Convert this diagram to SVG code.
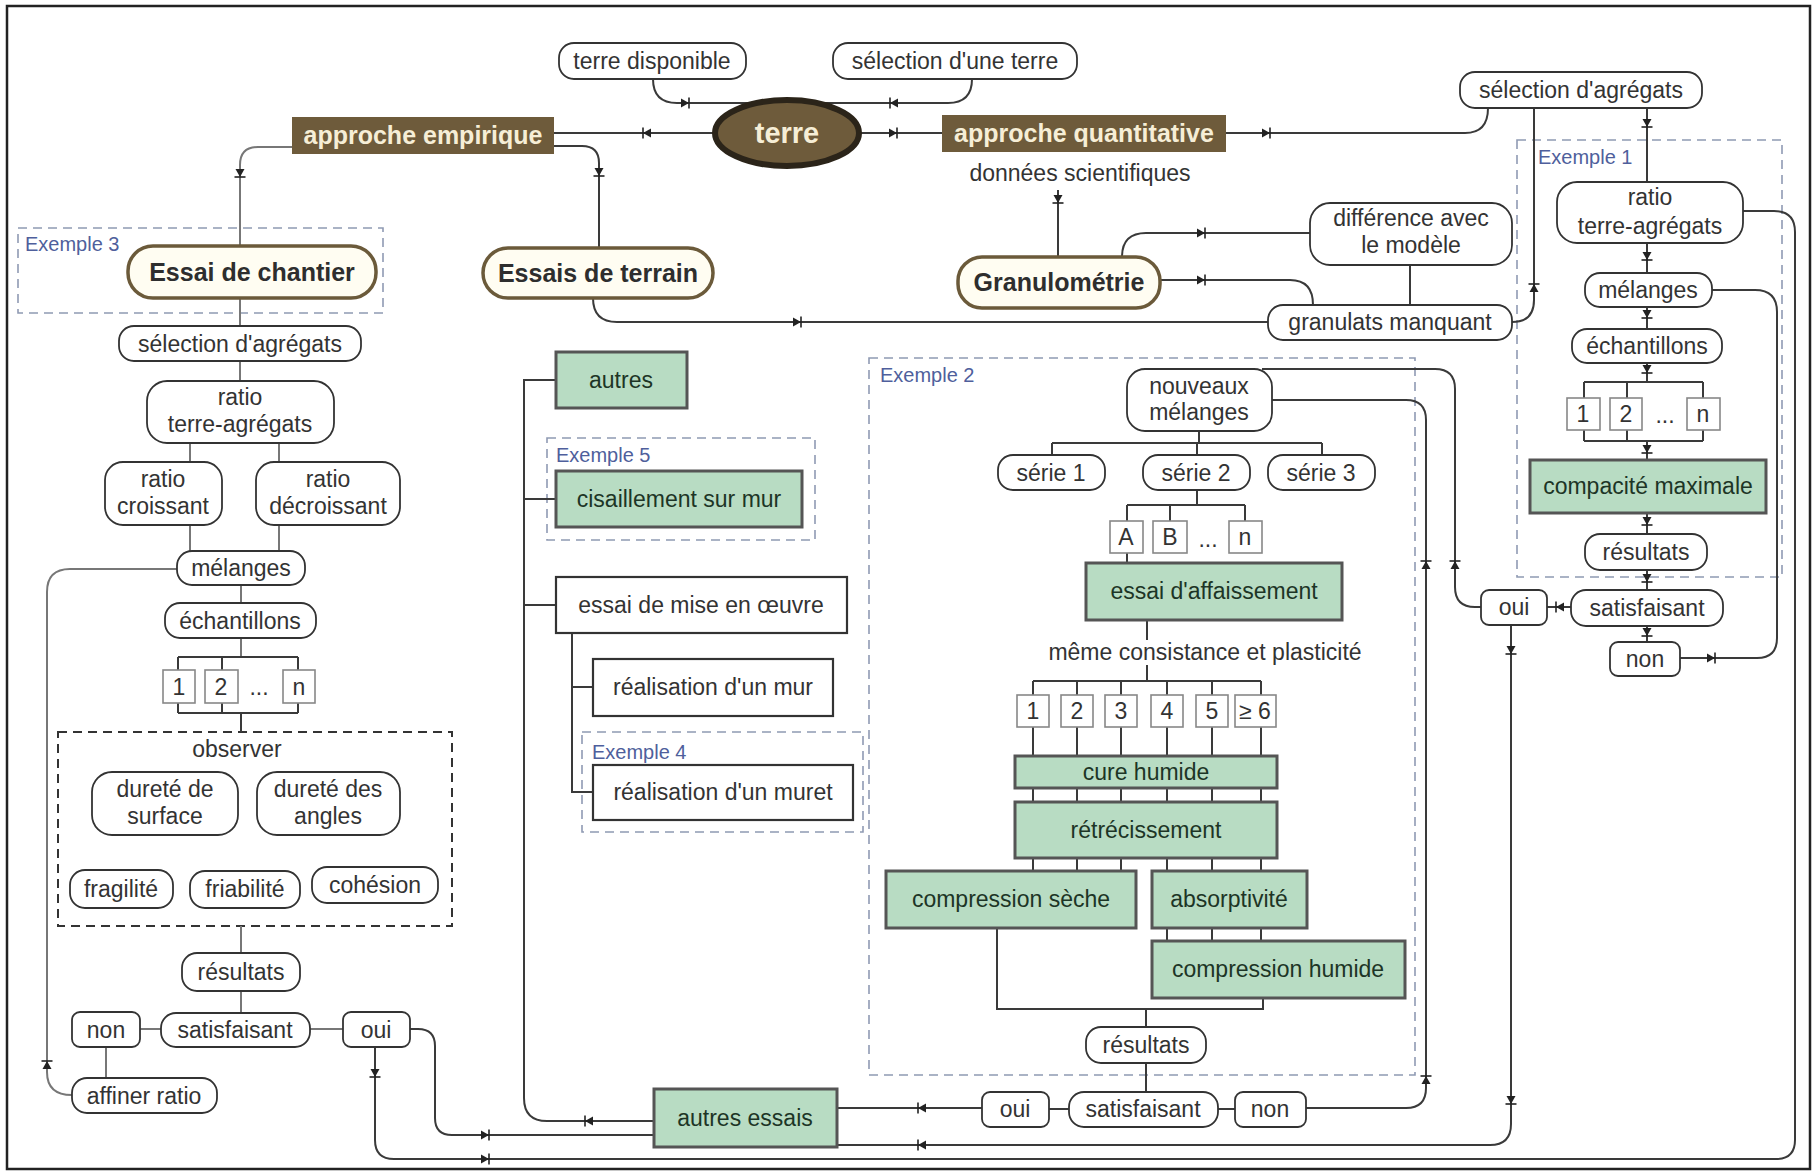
<svg xmlns="http://www.w3.org/2000/svg" width="1815" height="1172" viewBox="0 0 1815 1172">
<defs>
<style>
text{font-family:"Liberation Sans",Arial,sans-serif;fill:#333;text-anchor:middle}
.t{font-size:23px}
.b{font-size:25px;font-weight:bold;fill:#2e2e2e}
.br{font-size:25px;font-weight:bold;fill:#f6eed6}
.ex{font-size:20px;fill:#4f5f9c;text-anchor:start}
.g{font-size:23px;fill:#1d3526}
.pill{fill:#fff;stroke:#333;stroke-width:1.8}
.prim{fill:#fffdf2;stroke:#6b5a3a;stroke-width:3.5}
.brown{fill:#6e5b3b}
.green{fill:#b8dcc3;stroke:#555;stroke-width:3}
.wbox{fill:#fff;stroke:#333;stroke-width:2.2}
.num{fill:#fff;stroke:#888;stroke-width:1.6}
.exbox{fill:none;stroke:#8f9ab3;stroke-width:1.6;stroke-dasharray:9 6}
.obs{fill:none;stroke:#333;stroke-width:2;stroke-dasharray:9 6}
.c path,.c line{fill:none;stroke:#3a3a3a;stroke-width:2}
.c .gr{stroke:#777}
</style>
<g id="ah"><path d="M-6,-4.5 L2,0 L-6,4.5 Z" fill="#222"/><path d="M2,-5.5 V5.5" stroke="#222" stroke-width="1.6"/></g>
</defs>
<rect x="0" y="0" width="1815" height="1172" fill="#fff"/>
<rect x="7" y="6" width="1803" height="1163" fill="none" stroke="#222" stroke-width="2.5"/>

<!-- example frames -->
<g id="frames">
<rect class="exbox" x="18" y="228" width="365" height="85"/>
<text class="ex" x="25" y="251">Exemple 3</text>
<rect class="exbox" x="1517" y="140" width="265" height="437"/>
<text class="ex" x="1538" y="164">Exemple 1</text>
<rect class="exbox" x="869" y="358" width="546" height="717"/>
<text class="ex" x="880" y="382">Exemple 2</text>
<rect class="exbox" x="547" y="438" width="268" height="102"/>
<text class="ex" x="556" y="462">Exemple 5</text>
<rect class="exbox" x="582" y="732" width="281" height="100"/>
<text class="ex" x="592" y="759">Exemple 4</text>
<rect class="obs" x="58" y="732" width="394" height="194"/>
<text class="t" x="237" y="757">observer</text>
</g>

<!-- connectors -->
<g id="connectors" class="c">
<path class="gr" d="M292,147 H258 Q240,147 240,165 V246"/>
<path d="M554,146 H582 Q599,146 599,163 V248"/>
<path d="M653,79 Q653,103 677,103 H948 Q972,103 972,79"/>
<path d="M715,133 H554"/>
<path d="M859,133 H942"/>
<path d="M1226,133 H1465 Q1488,133 1488,108"/>
<path d="M1534,108 V300 Q1534,322 1512,322"/>
<path d="M1647,108 V182"/>
<path d="M1058,190 V257"/>
<path d="M1122,257 Q1122,233 1146,233 H1310"/>
<path d="M1160,280 H1290 Q1313,280 1313,305"/>
<path d="M1410,265 V305"/>
<path d="M593,298 Q593,322 617,322 H1268"/>
<!-- left column -->
<path class="gr" d="M240,298 V326 M240,361 V381 M190,443 V462 M279,443 V462 M190,525 V551 M279,525 V551 M241,585 V603 M241,638 V657"/>
<path d="M178,657 H298 M178,657 V670 M222,657 V670 M298,657 V670 M178,703 V713 M222,703 V713 M298,703 V713 M178,713 H298 M241,713 V732"/>
<path class="gr" d="M241,926 V953 M241,991 V1013 M140,1029 H161 M310,1029 H343 M106,1047 V1078"/>
<path class="gr" d="M177,569 H70 Q47,569 47,592 V1072 Q47,1095 72,1095"/>
<path d="M410,1029 H418 Q435,1029 435,1046 V1118 Q435,1135 452,1135 H654"/>
<path d="M375,1047 V1140 Q375,1159 394,1159 H1776 Q1795,1159 1795,1140 V232 Q1795,211 1774,211 H1743"/>
<!-- middle tree -->
<path d="M556,380 H524 V1098 Q524,1121 547,1121 H654"/>
<path d="M524,499 H556 M524,605 H556"/>
<path d="M572,633 V792 H593 M572,687 H593"/>
<path d="M837,1108 H982"/>
<path d="M837,1145 H1490 Q1511,1145 1511,1124 V625"/>
<!-- exemple 2 -->
<path d="M1272,400 H1406 Q1426,400 1426,420 V1088 Q1426,1108 1406,1108 H1306"/>
<path d="M1262,369 H1435 Q1455,369 1455,389 V587 Q1455,607 1475,607 H1481"/>
<path d="M1199,431 V443 M1052,443 H1322 M1052,443 V455 M1197,443 V455 M1322,443 V455"/>
<path d="M1197,490 V505 M1127,505 H1245 M1127,505 V521 M1170,505 V521 M1245,505 V521 M1127,553 V563"/>
<path d="M1147,620 V640 M1147,665 V681 M1033,681 H1261"/>
<path d="M1033,681 V695 M1077,681 V695 M1121,681 V695 M1167,681 V695 M1212,681 V695 M1261,681 V695"/>
<path d="M1033,727 V756 M1077,727 V756 M1121,727 V756 M1167,727 V756 M1212,727 V756 M1261,727 V756"/>
<path d="M1033,788 V802 M1077,788 V802 M1121,788 V802 M1167,788 V802 M1212,788 V802 M1261,788 V802"/>
<path d="M1033,858 V871 M1077,858 V871 M1121,858 V871 M1167,858 V871 M1212,858 V871 M1261,858 V871"/>
<path d="M1167,928 V941 M1212,928 V941 M1261,928 V941"/>
<path d="M997,928 V1009 H1263 V998 M1146,1009 V1027 M1146,1063 V1092 M1049,1109 H1069 M1218,1109 H1235"/>
<!-- exemple 1 -->
<path d="M1647,243 V273 M1647,307 V329 M1647,363 V382 M1584,382 H1703 M1584,382 V398 M1627,382 V398 M1703,382 V398"/>
<path d="M1584,430 V441 M1627,430 V441 M1703,430 V441 M1584,441 H1703 M1647,441 V460 M1647,513 V534 M1647,570 V590 M1647,626 V642"/>
<path d="M1571,607 H1547"/>
<path d="M1680,658 H1757 Q1777,658 1777,638 V312 Q1777,290 1755,290 H1712"/>
<!-- arrowheads -->
<use href="#ah" transform="translate(240,175) rotate(90)"/>
<use href="#ah" transform="translate(599,174) rotate(90)"/>
<use href="#ah" transform="translate(645,133) rotate(180)"/>
<use href="#ah" transform="translate(895,133)"/>
<use href="#ah" transform="translate(687,103)"/>
<use href="#ah" transform="translate(892,103) rotate(180)"/>
<use href="#ah" transform="translate(1268,133)"/>
<use href="#ah" transform="translate(1058,201) rotate(90)"/>
<use href="#ah" transform="translate(1203,233)"/>
<use href="#ah" transform="translate(1203,280)"/>
<use href="#ah" transform="translate(799,322)"/>
<use href="#ah" transform="translate(1534,286) rotate(-90)"/>
<use href="#ah" transform="translate(1647,125) rotate(90)"/>
<use href="#ah" transform="translate(1647,258) rotate(90)"/>
<use href="#ah" transform="translate(1647,316) rotate(90)"/>
<use href="#ah" transform="translate(1647,371) rotate(90)"/>
<use href="#ah" transform="translate(1647,451) rotate(90)"/>
<use href="#ah" transform="translate(1647,523) rotate(90)"/>
<use href="#ah" transform="translate(1647,580) rotate(90)"/>
<use href="#ah" transform="translate(1647,634) rotate(90)"/>
<use href="#ah" transform="translate(1558,607) rotate(180)"/>
<use href="#ah" transform="translate(1511,652) rotate(90)"/>
<use href="#ah" transform="translate(1511,1102) rotate(90)"/>
<use href="#ah" transform="translate(1713,658)"/>
<use href="#ah" transform="translate(1426,563) rotate(-90)"/>
<use href="#ah" transform="translate(1455,563) rotate(-90)"/>
<use href="#ah" transform="translate(1426,1078) rotate(-90)"/>
<use href="#ah" transform="translate(920,1108) rotate(180)"/>
<use href="#ah" transform="translate(920,1145) rotate(180)"/>
<use href="#ah" transform="translate(587,1121) rotate(180)"/>
<use href="#ah" transform="translate(487,1135)"/>
<use href="#ah" transform="translate(487,1159)"/>
<use href="#ah" transform="translate(375,1075) rotate(90)"/>
<use href="#ah" transform="translate(47,1063) rotate(-90)"/>
</g>

<!-- top nodes -->
<g id="n-terre-disponible"><rect class="pill" x="559" y="43" width="187" height="36" rx="15"/><text class="t" x="652" y="69">terre disponible</text></g>
<g id="n-selection-terre"><rect class="pill" x="833" y="43" width="244" height="36" rx="15"/><text class="t" x="955" y="69">sélection d'une terre</text></g>
<g id="n-terre"><ellipse cx="787" cy="133" rx="72" ry="33" fill="#6e5b3b" stroke="#2b2419" stroke-width="6"/><text x="787" y="143" style="font-size:29px;font-weight:bold;fill:#f6eed6">terre</text></g>
<g id="n-approche-empirique"><rect class="brown" x="292" y="117" width="262" height="37"/><text class="br" x="423" y="144">approche empirique</text></g>
<g id="n-approche-quantitative"><rect class="brown" x="942" y="115" width="284" height="37"/><text class="br" x="1084" y="142">approche quantitative</text></g>
<g id="n-donnees"><text class="t" x="1080" y="181">données scientifiques</text></g>
<g id="n-granulometrie"><rect class="prim" x="958" y="257" width="202" height="51" rx="24"/><text class="b" x="1059" y="291">Granulométrie</text></g>
<g id="n-difference"><rect class="pill" x="1310" y="203" width="202" height="62" rx="20"/><text class="t" x="1411" y="226">différence avec</text><text class="t" x="1411" y="253">le modèle</text></g>
<g id="n-granulats"><rect class="pill" x="1268" y="305" width="244" height="35" rx="15"/><text class="t" x="1390" y="330">granulats manquant</text></g>
<g id="n-selection-agregats-q"><rect class="pill" x="1460" y="72" width="242" height="36" rx="15"/><text class="t" x="1581" y="98">sélection d'agrégats</text></g>
<g id="n-essai-chantier"><rect class="prim" x="128" y="246" width="248" height="52" rx="25"/><text class="b" x="252" y="281">Essai de chantier</text></g>
<g id="n-essais-terrain"><rect class="prim" x="483" y="248" width="230" height="50" rx="25"/><text class="b" x="598" y="282">Essais de terrain</text></g>

<!-- left column -->
<g id="n-l-selection"><rect class="pill" x="119" y="326" width="242" height="35" rx="15"/><text class="t" x="240" y="352">sélection d'agrégats</text></g>
<g id="n-l-ratio"><rect class="pill" x="147" y="381" width="187" height="62" rx="20"/><text class="t" x="240" y="405">ratio</text><text class="t" x="240" y="432">terre-agrégats</text></g>
<g id="n-l-croissant"><rect class="pill" x="105" y="462" width="117" height="63" rx="18"/><text class="t" x="163" y="487">ratio</text><text class="t" x="163" y="514">croissant</text></g>
<g id="n-l-decroissant"><rect class="pill" x="256" y="462" width="144" height="63" rx="18"/><text class="t" x="328" y="487">ratio</text><text class="t" x="328" y="514">décroissant</text></g>
<g id="n-l-melanges"><rect class="pill" x="177" y="551" width="128" height="34" rx="15"/><text class="t" x="241" y="576">mélanges</text></g>
<g id="n-l-echantillons"><rect class="pill" x="165" y="603" width="151" height="35" rx="15"/><text class="t" x="240" y="629">échantillons</text></g>
<g id="n-l-1"><rect class="num" x="163" y="670" width="32" height="33"/><text class="t" x="179" y="695">1</text></g>
<g id="n-l-2"><rect class="num" x="205" y="670" width="33" height="33"/><text class="t" x="221" y="695">2</text></g>
<g id="n-l-dots"><text class="t" x="259" y="695">...</text></g>
<g id="n-l-n"><rect class="num" x="283" y="670" width="32" height="33"/><text class="t" x="299" y="695">n</text></g>
<g id="n-l-surface"><rect class="pill" x="92" y="772" width="146" height="63" rx="20"/><text class="t" x="165" y="797">dureté de</text><text class="t" x="165" y="824">surface</text></g>
<g id="n-l-angles"><rect class="pill" x="257" y="772" width="143" height="63" rx="20"/><text class="t" x="328" y="797">dureté des</text><text class="t" x="328" y="824">angles</text></g>
<g id="n-l-fragilite"><rect class="pill" x="70" y="870" width="103" height="38" rx="15"/><text class="t" x="121" y="897">fragilité</text></g>
<g id="n-l-friabilite"><rect class="pill" x="190" y="871" width="110" height="37" rx="15"/><text class="t" x="245" y="897">friabilité</text></g>
<g id="n-l-cohesion"><rect class="pill" x="312" y="867" width="126" height="36" rx="15"/><text class="t" x="375" y="893">cohésion</text></g>
<g id="n-l-resultats"><rect class="pill" x="182" y="953" width="118" height="38" rx="15"/><text class="t" x="241" y="980">résultats</text></g>
<g id="n-l-satisfaisant"><rect class="pill" x="161" y="1013" width="149" height="34" rx="15"/><text class="t" x="235" y="1038">satisfaisant</text></g>
<g id="n-l-non"><rect class="pill" x="72" y="1012" width="68" height="35" rx="8"/><text class="t" x="106" y="1038">non</text></g>
<g id="n-l-oui"><rect class="pill" x="343" y="1012" width="67" height="35" rx="8"/><text class="t" x="376" y="1038">oui</text></g>
<g id="n-l-affiner"><rect class="pill" x="72" y="1078" width="145" height="35" rx="15"/><text class="t" x="144" y="1104">affiner ratio</text></g>

<!-- middle -->
<g id="n-autres"><rect class="green" x="556" y="352" width="131" height="56"/><text class="g" x="621" y="388">autres</text></g>
<g id="n-cisaillement"><rect class="green" x="556" y="471" width="246" height="56"/><text class="g" x="679" y="507">cisaillement sur mur</text></g>
<g id="n-mise-en-oeuvre"><rect class="wbox" x="556" y="577" width="291" height="56"/><text class="t" x="701" y="613">essai de mise en œuvre</text></g>
<g id="n-mur"><rect class="wbox" x="593" y="659" width="240" height="57"/><text class="t" x="713" y="695">réalisation d'un mur</text></g>
<g id="n-muret"><rect class="wbox" x="593" y="765" width="260" height="55"/><text class="t" x="723" y="800">réalisation d'un muret</text></g>
<g id="n-autres-essais"><rect class="green" x="654" y="1089" width="183" height="58"/><text class="g" x="745" y="1126">autres essais</text></g>

<!-- exemple 2 -->
<g id="n-nouveaux"><rect class="pill" x="1127" y="369" width="145" height="62" rx="18"/><text class="t" x="1199" y="394">nouveaux</text><text class="t" x="1199" y="420">mélanges</text></g>
<g id="n-serie1"><rect class="pill" x="998" y="455" width="107" height="35" rx="15"/><text class="t" x="1051" y="481">série 1</text></g>
<g id="n-serie2"><rect class="pill" x="1143" y="455" width="107" height="35" rx="15"/><text class="t" x="1196" y="481">série 2</text></g>
<g id="n-serie3"><rect class="pill" x="1268" y="455" width="107" height="35" rx="15"/><text class="t" x="1321" y="481">série 3</text></g>
<g id="n-A"><rect class="num" x="1110" y="521" width="33" height="32"/><text class="t" x="1126" y="545">A</text></g>
<g id="n-B"><rect class="num" x="1153" y="521" width="34" height="32"/><text class="t" x="1170" y="545">B</text></g>
<g id="n-dots2"><text class="t" x="1208" y="547">...</text></g>
<g id="n-n2"><rect class="num" x="1229" y="521" width="33" height="32"/><text class="t" x="1245" y="545">n</text></g>
<g id="n-affaissement"><rect class="green" x="1086" y="563" width="256" height="57"/><text class="g" x="1214" y="599">essai d'affaissement</text></g>
<g id="n-consistance"><text class="t" x="1205" y="660">même consistance et plasticité</text></g>
<g id="n-b1"><rect class="num" x="1017" y="695" width="32" height="32"/><text class="t" x="1033" y="719">1</text></g>
<g id="n-b2"><rect class="num" x="1061" y="695" width="32" height="32"/><text class="t" x="1077" y="719">2</text></g>
<g id="n-b3"><rect class="num" x="1105" y="695" width="32" height="32"/><text class="t" x="1121" y="719">3</text></g>
<g id="n-b4"><rect class="num" x="1151" y="695" width="32" height="32"/><text class="t" x="1167" y="719">4</text></g>
<g id="n-b5"><rect class="num" x="1196" y="695" width="32" height="32"/><text class="t" x="1212" y="719">5</text></g>
<g id="n-b6"><rect class="num" x="1235" y="695" width="41" height="32"/><text class="t" x="1255" y="719">≥ 6</text></g>
<g id="n-cure"><rect class="green" x="1015" y="756" width="262" height="32"/><text class="g" x="1146" y="780">cure humide</text></g>
<g id="n-retrecissement"><rect class="green" x="1015" y="802" width="262" height="56"/><text class="g" x="1146" y="838">rétrécissement</text></g>
<g id="n-comp-seche"><rect class="green" x="886" y="871" width="250" height="57"/><text class="g" x="1011" y="907">compression sèche</text></g>
<g id="n-absorptivite"><rect class="green" x="1152" y="871" width="155" height="57"/><text class="g" x="1229" y="907">absorptivité</text></g>
<g id="n-comp-humide"><rect class="green" x="1152" y="941" width="253" height="57"/><text class="g" x="1278" y="977">compression humide</text></g>
<g id="n-resultats2"><rect class="pill" x="1086" y="1027" width="120" height="36" rx="15"/><text class="t" x="1146" y="1053">résultats</text></g>
<g id="n-oui2"><rect class="pill" x="982" y="1092" width="67" height="35" rx="8"/><text class="t" x="1015" y="1117">oui</text></g>
<g id="n-satisfaisant2"><rect class="pill" x="1069" y="1092" width="149" height="35" rx="15"/><text class="t" x="1143" y="1117">satisfaisant</text></g>
<g id="n-non2"><rect class="pill" x="1235" y="1092" width="71" height="35" rx="8"/><text class="t" x="1270" y="1117">non</text></g>

<!-- exemple 1 -->
<g id="n-r-ratio"><rect class="pill" x="1557" y="182" width="186" height="61" rx="20"/><text class="t" x="1650" y="205">ratio</text><text class="t" x="1650" y="234">terre-agrégats</text></g>
<g id="n-r-melanges"><rect class="pill" x="1585" y="273" width="127" height="34" rx="15"/><text class="t" x="1648" y="298">mélanges</text></g>
<g id="n-r-echantillons"><rect class="pill" x="1572" y="329" width="150" height="34" rx="15"/><text class="t" x="1647" y="354">échantillons</text></g>
<g id="n-r-1"><rect class="num" x="1567" y="398" width="33" height="32"/><text class="t" x="1583" y="422">1</text></g>
<g id="n-r-2"><rect class="num" x="1610" y="398" width="32" height="32"/><text class="t" x="1626" y="422">2</text></g>
<g id="n-r-dots"><text class="t" x="1665" y="423">...</text></g>
<g id="n-r-n"><rect class="num" x="1687" y="398" width="33" height="32"/><text class="t" x="1703" y="422">n</text></g>
<g id="n-compacite"><rect class="green" x="1530" y="460" width="236" height="53"/><text class="g" x="1648" y="494">compacité maximale</text></g>
<g id="n-r-resultats"><rect class="pill" x="1585" y="534" width="122" height="36" rx="15"/><text class="t" x="1646" y="560">résultats</text></g>
<g id="n-r-satisfaisant"><rect class="pill" x="1571" y="590" width="152" height="36" rx="15"/><text class="t" x="1647" y="616">satisfaisant</text></g>
<g id="n-r-oui"><rect class="pill" x="1481" y="590" width="66" height="35" rx="8"/><text class="t" x="1514" y="615">oui</text></g>
<g id="n-r-non"><rect class="pill" x="1610" y="642" width="70" height="34" rx="8"/><text class="t" x="1645" y="667">non</text></g>
</svg>
